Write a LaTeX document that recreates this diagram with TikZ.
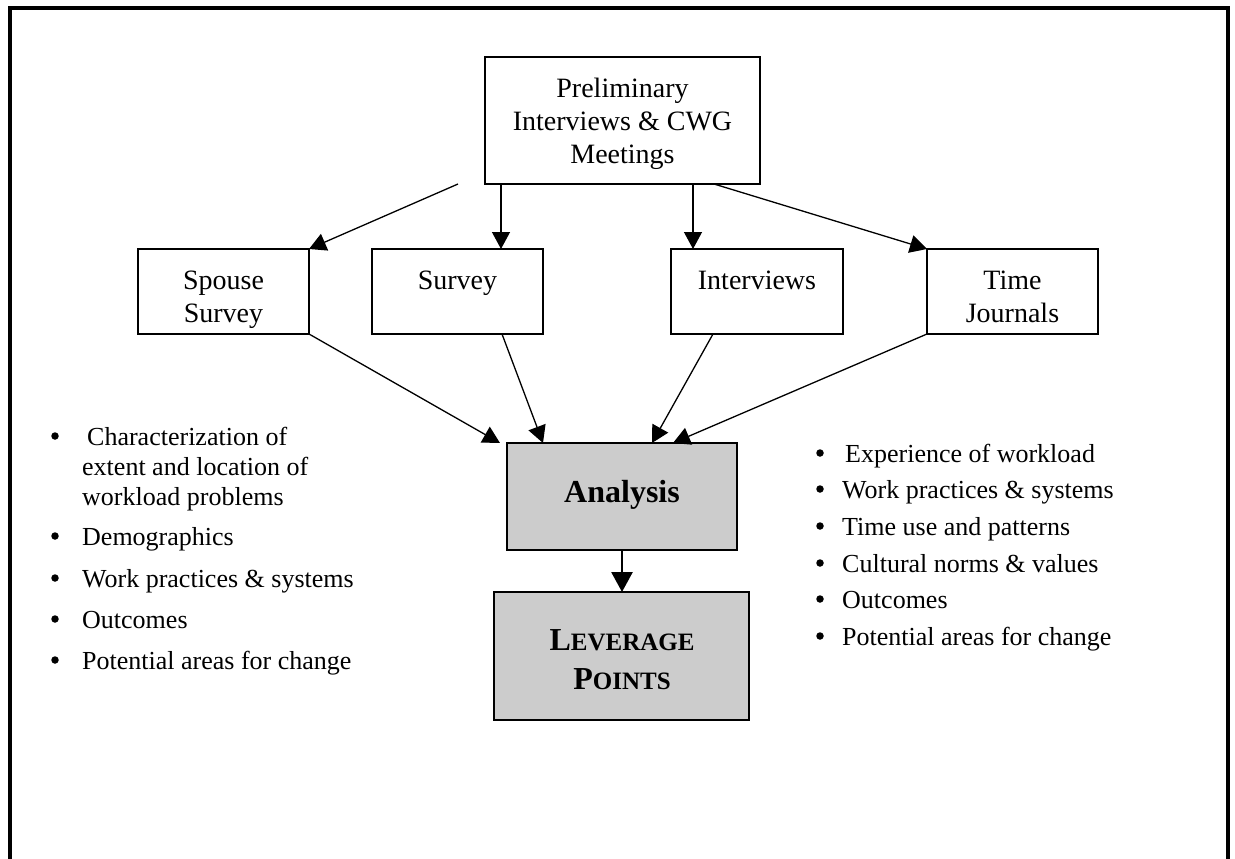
\documentclass[tikz,border=0pt]{standalone}
\usepackage{fontspec}
\setmainfont{Liberation Serif}
\usetikzlibrary{arrows.meta,calc}
\definecolor{boxgray}{HTML}{CCCCCC}
\begin{document}
\begin{tikzpicture}[x=1pt,y=-1pt,
  box/.style={draw, line width=2pt, rectangle, inner sep=0pt, outer sep=0pt, anchor=north west},
  graybox/.style={box, fill=boxgray, line width=2.5pt},
  boxtext/.style={font=\fontsize{28}{33}\selectfont, inner sep=0pt, anchor=base},
  bigtext/.style={font=\fontsize{32}{36}\selectfont\bfseries, inner sep=0pt, anchor=base},
  bullettext/.style={font=\fontsize{26}{30}\selectfont, inner sep=0pt, anchor=base west},
  bulletdot/.style={circle, fill=black, inner sep=0pt, minimum size=7.5pt},
  conn/.style={line width=1.3pt, -{Triangle[length=17pt,width=18pt]}},
  thickconn/.style={line width=2.8pt, -{Triangle[length=20pt,width=21pt]}}]
\useasboundingbox (0,0) rectangle (1235,859);
% frame
\draw[line width=3.5pt, line join=miter] (10,880) -- (10,8) -- (1228,8) -- (1228,880);

% boxes
\node[box, minimum width=275pt, minimum height=127pt] (prelim) at (485,57) {};
\node[box, minimum width=171pt, minimum height=85pt] (spouse) at (138,249) {};
\node[box, minimum width=171pt, minimum height=85pt] (survey) at (372,249) {};
\node[box, minimum width=172pt, minimum height=85pt] (interviews) at (671,249) {};
\node[box, minimum width=171pt, minimum height=85pt] (journals) at (927,249) {};
\node[graybox, minimum width=230pt, minimum height=107pt] (analysis) at (507,443) {};
\node[graybox, minimum width=255pt, minimum height=128pt] (leverage) at (494,592) {};

% box texts
\node[boxtext] (prelimA) at (622.5,97) {Preliminary};
\node[boxtext] (prelimB) at (622.5,130) {Interviews \& CWG};
\node[boxtext] (prelimC) at (622.5,163) {Meetings};
\node[boxtext] (spouseA) at (223.5,289) {Spouse};
\node[boxtext] (spouseB) at (223.5,322) {Survey};
\node[boxtext] (surveyA) at (457.5,289) {Survey};
\node[boxtext] (interviewsA) at (757,289) {Interviews};
\node[boxtext] (journalsA) at (1012.5,289) {Time};
\node[boxtext] (journalsB) at (1012.5,322) {Journals};
\node[bigtext] (analysisA) at (622,502) {Analysis};
\node[bigtext] (leverageA) at (622,650) {L{\fontsize{25}{30}\selectfont EVERAGE}};
\node[bigtext] (leverageB) at (622,689) {P{\fontsize{25}{30}\selectfont OINTS}};

% connectors from preliminary box
\coordinate (ps0) at ($(prelim.south west)+(-27,0)$);
\coordinate (ps1) at ($(prelim.south west)+(16,0)$);
\coordinate (ps2) at ($(prelim.south west)+(208,0)$);
\coordinate (ps3) at ($(prelim.south west)+(229,0)$);
\draw[conn] (ps0) -- (spouse.north east);
\draw[conn] (ps1) -- (ps1 |- survey.north);
\draw[conn] (ps2) -- (ps2 |- interviews.north);
\draw[conn] (ps3) -- (journals.north west);

% connectors into analysis
\coordinate (sv) at ($(survey.south west)+(130,0)$);
\coordinate (iv) at ($(interviews.south west)+(42,0)$);
\coordinate (a0) at ($(analysis.north west)+(-7,0)$);
\coordinate (a1) at ($(analysis.north west)+(36,0)$);
\coordinate (a2) at ($(analysis.north west)+(145,0)$);
\coordinate (a3) at ($(analysis.north west)+(166,0)$);
\draw[conn] (spouse.south east) -- (a0);
\draw[conn] (sv) -- (a1);
\draw[conn] (iv) -- (a2);
\draw[conn] (journals.south west) -- (a3);
\draw[thickconn] (analysis.south) -- (analysis.south |- leverage.north);

% left bullet list
\node[bulletdot] (ld1) at (55,436) {};
\node[bullettext] (lt1a) at (87,445) {Characterization of};
\node[bullettext] (lt1b) at (82,475) {extent and location of};
\node[bullettext] (lt1c) at (82,505) {workload problems};
\node[bulletdot] (ld2) at (55,536) {};
\node[bullettext] (lt2) at (82,545) {Demographics};
\node[bulletdot] (ld3) at (55,578) {};
\node[bullettext] (lt3) at (82,587) {Work practices \& systems};
\node[bulletdot] (ld4) at (55,619) {};
\node[bullettext] (lt4) at (82,628) {Outcomes};
\node[bulletdot] (ld5) at (55,660) {};
\node[bullettext] (lt5) at (82,669) {Potential areas for change};

% right bullet list
\node[bulletdot] (rd1) at (820,453) {};
\node[bullettext] (rt1) at (845,462) {Experience of workload};
\node[bulletdot] (rd2) at (820,489) {};
\node[bullettext] (rt2) at (842,498) {Work practices \& systems};
\node[bulletdot] (rd3) at (820,526) {};
\node[bullettext] (rt3) at (842,535) {Time use and patterns};
\node[bulletdot] (rd4) at (820,563) {};
\node[bullettext] (rt4) at (842,572) {Cultural norms \& values};
\node[bulletdot] (rd5) at (820,599) {};
\node[bullettext] (rt5) at (842,608) {Outcomes};
\node[bulletdot] (rd6) at (820,636) {};
\node[bullettext] (rt6) at (842,645) {Potential areas for change};
\end{tikzpicture}
\end{document}
